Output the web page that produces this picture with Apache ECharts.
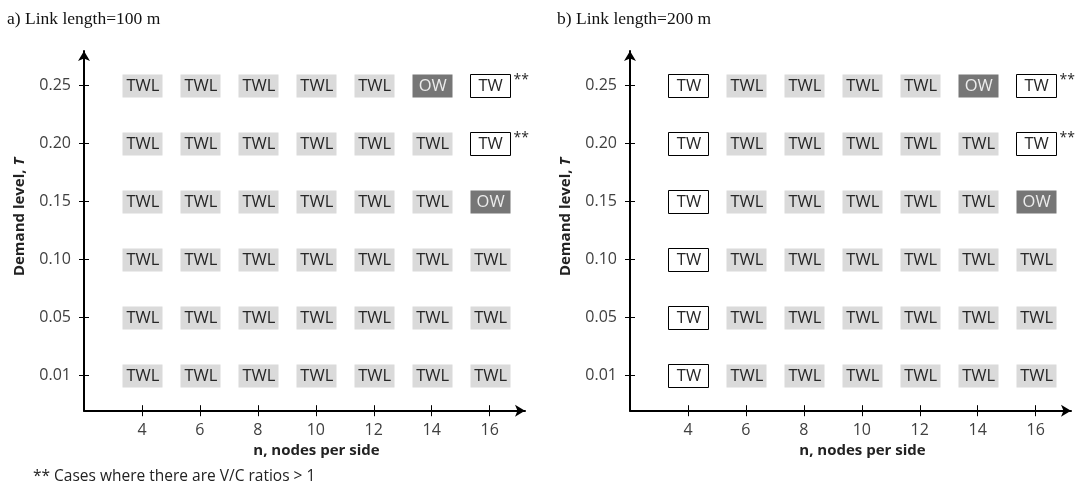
<!DOCTYPE html>
<html>
<head>
<meta charset="utf-8">
<script src="https://cdn.jsdelivr.net/npm/echarts@6/dist/echarts.min.js"></script>
<style>
html,body{margin:0;padding:0;background:#fff;}
#chart{width:1079px;height:488px;}
</style>
</head>
<body>
<div id="chart"></div>
<script>
// ---- data ----
const nodesPerSide = [4, 6, 8, 10, 12, 14, 16];
const demandLevels = ['0.01', '0.05', '0.10', '0.15', '0.20', '0.25'];
// rows ordered from demand 0.01 (bottom) to 0.25 (top); columns = nodesPerSide
const strategiesA = [
  ['TWL', 'TWL', 'TWL', 'TWL', 'TWL', 'TWL', 'TWL'],
  ['TWL', 'TWL', 'TWL', 'TWL', 'TWL', 'TWL', 'TWL'],
  ['TWL', 'TWL', 'TWL', 'TWL', 'TWL', 'TWL', 'TWL'],
  ['TWL', 'TWL', 'TWL', 'TWL', 'TWL', 'TWL', 'OW'],
  ['TWL', 'TWL', 'TWL', 'TWL', 'TWL', 'TWL', 'TW'],
  ['TWL', 'TWL', 'TWL', 'TWL', 'TWL', 'OW', 'TW']
];
const strategiesB = [
  ['TW', 'TWL', 'TWL', 'TWL', 'TWL', 'TWL', 'TWL'],
  ['TW', 'TWL', 'TWL', 'TWL', 'TWL', 'TWL', 'TWL'],
  ['TW', 'TWL', 'TWL', 'TWL', 'TWL', 'TWL', 'TWL'],
  ['TW', 'TWL', 'TWL', 'TWL', 'TWL', 'TWL', 'OW'],
  ['TW', 'TWL', 'TWL', 'TWL', 'TWL', 'TWL', 'TW'],
  ['TW', 'TWL', 'TWL', 'TWL', 'TWL', 'OW', 'TW']
];
// cells with V/C ratios > 1 : [nodesPerSide, demandLevel]
const vcOverA = [[16, '0.20'], [16, '0.25']];
const vcOverB = [[16, '0.20'], [16, '0.25']];
const panelTitles = ['a) Link length=100 m', 'b) Link length=200 m'];
const footnote = '** Cases where there are V/C ratios > 1';

// ---- build cells ----
function buildCells(strats, flags) {
  const out = [];
  strats.forEach((row, r) => {
    row.forEach((s, c) => {
      const n = nodesPerSide[c];
      const flag = flags.some(f => f[0] === n && f[1] === demandLevels[r]);
      out.push({ value: [n, r], strategy: s, flag: flag });
    });
  });
  return out;
}
const cellsA = buildCells(strategiesA, vcOverA);
const cellsB = buildCells(strategiesB, vcOverB);

const FONT = '"Open Sans", sans-serif';
const styles = {
  TWL: { fill: '#dadada', stroke: null, text: '#262626' },
  OW: { fill: '#767676', stroke: null, text: '#ececec' },
  TW: { fill: '#ffffff', stroke: '#000000', text: '#262626' }
};

function makeRender(cells) {
  return function (params, api) {
    const cell = cells[params.dataIndex];
    const p = api.coord([api.value(0), api.value(1)]);
    const st = styles[cell.strategy];
    const w = 40, h = 23;
    const x0 = Math.round(p[0] - w / 2) + 0.5, y0 = Math.round(p[1] - h / 2) + 0.5;
    const children = [
      {
        type: 'rect',
        shape: { x: x0, y: y0, width: w, height: h },
        style: { fill: st.fill, stroke: st.stroke, lineWidth: st.stroke ? 1 : 0 }
      },
      {
        type: 'text',
        style: {
          text: cell.strategy, x: p[0] + 1, y: p[1] + 1, align: 'center', verticalAlign: 'middle',
          fontSize: 16.5, fontFamily: FONT, fill: st.text
        }
      }
    ];
    if (cell.flag) {
      children.push({
        type: 'text',
        style: {
          text: '**', x: x0 + w + 3, y: y0 - 1, align: 'left', verticalAlign: 'top',
          fontSize: 14, fontFamily: FONT, fill: '#262626'
        }
      });
    }
    return { type: 'group', children: children };
  };
}

const rowIdx = demandLevels.map((d, i) => i);
const grids = [
  { left: 84, top: 51, width: 441, height: 359.7 },
  { left: 630, top: 51, width: 441, height: 359.7 }
];
const X_MIN = 2, X_MAX = 17.22, Y_MIN = -0.615, Y_MAX = 5.587;

function xAxes(g) {
  return [
    {
      gridIndex: g, type: 'value', position: 'bottom', min: X_MIN, max: X_MAX,
      axisLine: { show: true, onZero: false, lineStyle: { color: '#000', width: 2 }, symbol: ['none', 'arrow'], symbolSize: [9, 10] },
      axisTick: { show: true, customValues: nodesPerSide, length: 5.5, lineStyle: { color: '#000', width: 1 } },
      axisLabel: { customValues: nodesPerSide, fontSize: 16, fontFamily: FONT, color: '#404040', margin: 12 },
      splitLine: { show: false },
      name: 'n, nodes per side', nameLocation: 'middle', nameGap: 27,
      nameTextStyle: { fontWeight: 'bold', fontSize: 15, fontFamily: FONT, color: '#222', padding: [0, 0, 0, 24] }
    },
    {
      gridIndex: g, type: 'value', position: 'bottom', offset: 0, min: X_MIN, max: X_MAX,
      axisLine: { show: false, onZero: false },
      axisTick: { show: true, inside: true, customValues: nodesPerSide, length: 5.5, lineStyle: { color: '#000', width: 1 } },
      axisLabel: { show: false },
      splitLine: { show: false }
    }
  ];
}
function yAxes(g) {
  return [
    {
      gridIndex: g, type: 'value', position: 'left', min: Y_MIN, max: Y_MAX,
      axisLine: { show: true, onZero: false, lineStyle: { color: '#000', width: 2 }, symbol: ['none', 'arrow'], symbolSize: [9, 10] },
      axisTick: { show: true, customValues: rowIdx, length: 5, lineStyle: { color: '#000', width: 1 } },
      axisLabel: { customValues: rowIdx, formatter: v => demandLevels[Math.round(v)], fontSize: 16, fontFamily: FONT, color: '#404040', margin: 13 },
      splitLine: { show: false },
      name: 'Demand level, {i|T}', nameLocation: 'middle', nameGap: 57,
      nameTextStyle: {
        fontWeight: 'bold', fontSize: 15, fontFamily: FONT, color: '#222', padding: [0, 0, 0, 28],
        rich: { i: { fontStyle: 'italic', fontWeight: 'bold', fontSize: 15, fontFamily: FONT, color: '#222' } }
      }
    },
    {
      gridIndex: g, type: 'value', position: 'left', offset: 0, min: Y_MIN, max: Y_MAX,
      axisLine: { show: false, onZero: false },
      axisTick: { show: true, inside: true, customValues: rowIdx, length: 5, lineStyle: { color: '#000', width: 1 } },
      axisLabel: { show: false },
      splitLine: { show: false }
    }
  ];
}

const chart = echarts.init(document.getElementById('chart'), null, { renderer: 'canvas' });
chart.setOption({
  animation: false,
  backgroundColor: '#ffffff',
  title: [
    { text: panelTitles[0], left: 2, top: 5, textStyle: { fontFamily: '"Liberation Serif", serif', fontSize: 17.5, fontWeight: 'normal', color: '#111' } },
    { text: panelTitles[1], left: 552, top: 5, textStyle: { fontFamily: '"Liberation Serif", serif', fontSize: 17.5, fontWeight: 'normal', color: '#111' } },
    { text: footnote, left: 28, top: 464, textStyle: { fontFamily: FONT, fontSize: 15.5, fontWeight: 'normal', color: '#222' } }
  ],
  grid: grids,
  xAxis: xAxes(0).concat(xAxes(1)),
  yAxis: yAxes(0).concat(yAxes(1)),
  series: [
    { type: 'custom', xAxisIndex: 0, yAxisIndex: 0, data: cellsA.map(c => c.value), renderItem: makeRender(cellsA), clip: false },
    { type: 'custom', xAxisIndex: 2, yAxisIndex: 2, data: cellsB.map(c => c.value), renderItem: makeRender(cellsB), clip: false }
  ]
});
</script>
</body>
</html>
